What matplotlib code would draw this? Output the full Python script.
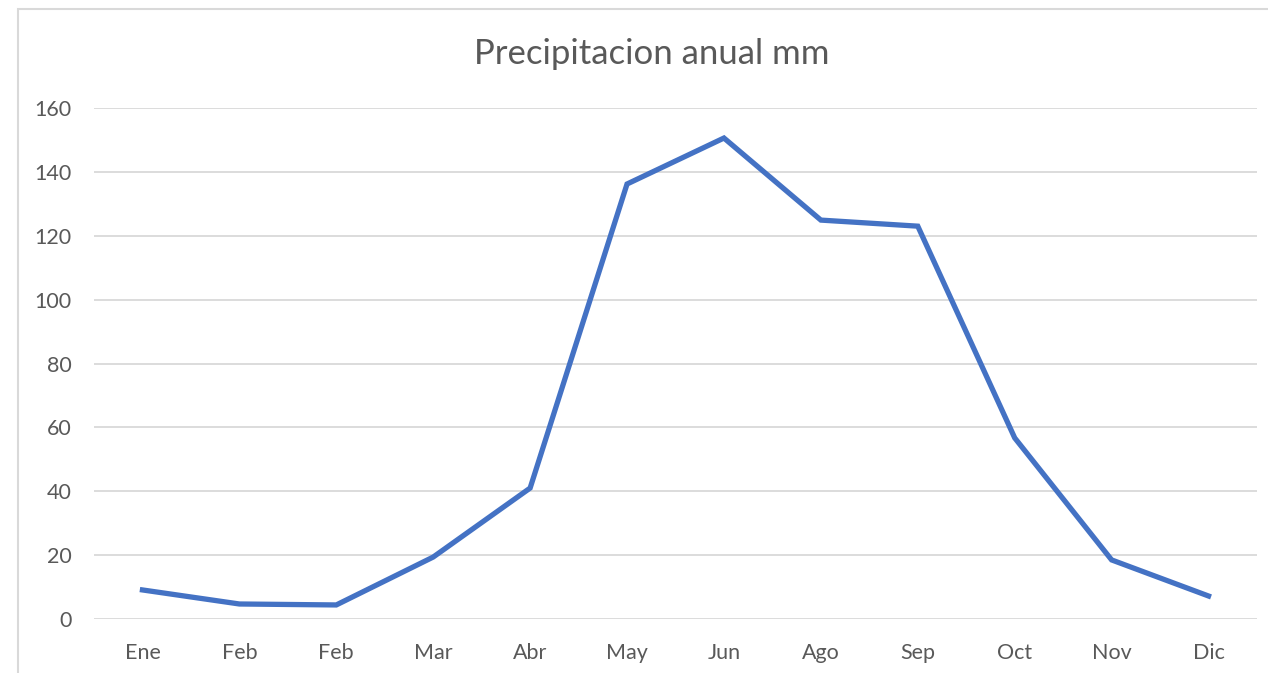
import matplotlib.pyplot as plt
import matplotlib.patches as patches
import numpy as np

months = ["Ene", "Feb", "Feb", "Mar", "Abr", "May", "Jun", "Ago", "Sep", "Oct", "Nov", "Dic"]
rain_mm = [9.1, 4.7, 4.4, 19.4, 41.0, 136.2, 150.6, 124.9, 123.0, 56.7, 18.5, 7.2]
y_ticks = [0, 20, 40, 60, 80, 100, 120, 140, 160]

plt.rcParams['font.family'] = ['Lato', 'DejaVu Sans']
text_color = '#595959'
grid_color = '#d9d9d9'

fig = plt.figure(figsize=(12.68, 6.73), dpi=100)
ax = fig.add_axes([94 / 1268, 54 / 673, 1163 / 1268, 511 / 673])

# chart frame like in excel
frame = patches.Rectangle((18 / 1268, -0.1), 1.2, (673 - 9) / 673 + 0.1,
                          transform=fig.transFigure, fill=False,
                          edgecolor=grid_color, linewidth=1.5)
fig.patches.append(frame)

x = np.arange(len(months))
ax.plot(x, rain_mm, color='#4472C4', linewidth=3.8, solid_joinstyle='miter', zorder=3)

ax.set_xlim(-0.5, len(months) - 0.5)
ax.set_ylim(0, 160)
ax.set_yticks(y_ticks)
ax.set_xticks(x)
ax.set_xticklabels(months)
ax.grid(axis='y', color=grid_color, linewidth=1.3)
ax.tick_params(axis='both', length=0, labelsize=15.5, colors=text_color)
ax.tick_params(axis='x', pad=17)
ax.tick_params(axis='y', pad=16)
for s in ax.spines.values():
    s.set_visible(False)

fig.text(652 / 1268, 1 - 54 / 673, "Precipitacion anual mm", ha='center', va='center',
         fontsize=25, color=text_color)

fig.savefig("out.png", dpi=100)
